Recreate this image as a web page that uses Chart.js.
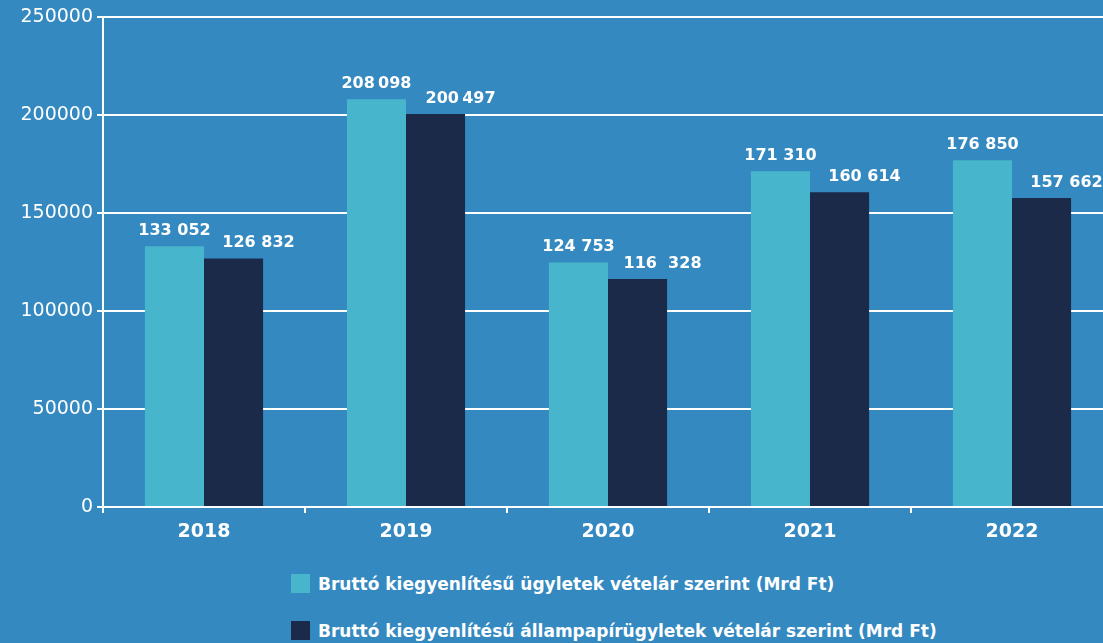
<!DOCTYPE html>
<html>
<head>
<meta charset="utf-8">
<script src="https://cdn.jsdelivr.net/npm/chart.js@4"></script>
<style>
  html, body { margin: 0; padding: 0; background: #3489c0; overflow: hidden; }
  #wrap { position: relative; width: 1103px; height: 643px; overflow: hidden; background: #3489c0; }
  #box { position: absolute; left: 0; top: 0; width: 1120px; height: 560px; }
  #legend { position: absolute; left: 291px; top: 574px; font: bold 17px "DejaVu Sans", sans-serif; color: #fff; }
  .lg-item { display: flex; align-items: center; height: 19px; margin-bottom: 28px; }
  .lg-sw { width: 19px; height: 19px; margin-right: 8px; }
</style>
</head>
<body>
<div id="wrap">
  <div id="box"><canvas id="chart"></canvas></div>
  <div id="legend"></div>
</div>
<script>
const YEARS = ["2018", "2019", "2020", "2021", "2022"];
const GROSS = [133052, 208098, 124753, 171310, 176850];
const GOV = [126832, 200497, 116328, 160614, 157662];
const GROSS_TEXT = ["133 052", "208\u2009098", "124 753", "171 310", "176 850"];
const GOV_TEXT = ["126 832", "200\u2009497", "116  328", "160 614", "157 662"];
const SERIES_NAMES = [
  "Bruttó kiegyenlítésű ügyletek vételár szerint (Mrd Ft)",
  "Bruttó kiegyenlítésű állampapírügyletek vételár szerint (Mrd Ft)",
];
const COLORS = ["#47b5cc", "#1c2a4a"];
const FONT = '"DejaVu Sans", sans-serif';

// the dark bar's label sits a bit to the right of its bar in the original
const LABEL_SHIFT = [0, 25];

const valueLabels = {
  id: "valueLabels",
  afterDatasetsDraw(chart) {
    const ctx = chart.ctx;
    const texts = [GROSS_TEXT, GOV_TEXT];
    ctx.save();
    ctx.fillStyle = "#ffffff";
    ctx.font = "bold 16px " + FONT;
    ctx.textAlign = "center";
    ctx.textBaseline = "alphabetic";
    chart.data.datasets.forEach((ds, i) => {
      chart.getDatasetMeta(i).data.forEach((bar, j) => {
        ctx.fillText(texts[i][j], bar.x + LABEL_SHIFT[i], bar.y - 11);
      });
    });
    ctx.restore();
  },
};

const chart = new Chart(document.getElementById("chart"), {
  type: "bar",
  data: {
    labels: YEARS,
    datasets: [
      { label: SERIES_NAMES[0], data: GROSS, backgroundColor: COLORS[0] },
      { label: SERIES_NAMES[1], data: GOV, backgroundColor: COLORS[1] },
    ],
  },
  options: {
    responsive: true,
    maintainAspectRatio: false,
    animation: false,
    categoryPercentage: 0.585,
    barPercentage: 1,
    layout: { padding: { top: 17, right: 7, bottom: 0, left: 0 } },
    plugins: {
      legend: { display: false },
      tooltip: { enabled: false },
    },
    scales: {
      x: {
        afterFit: (s) => { s.height = 53; },
        border: { color: "#ffffff", width: 2 },
        grid: { offset: true, drawOnChartArea: false, drawTicks: true, tickLength: 6, color: "#ffffff", lineWidth: 2 },
        ticks: { color: "#ffffff", font: { family: FONT, size: 19, weight: "bold" }, padding: 8 },
      },
      y: {
        min: 0,
        max: 250000,
        afterFit: (s) => { s.width = 103; },
        border: { color: "#ffffff", width: 2 },
        grid: { color: "#ffffff", lineWidth: 2, tickLength: 6 },
        ticks: {
          stepSize: 50000,
          color: "#ffffff",
          font: { family: FONT, size: 19 },
          padding: 4,
          callback: (v) => String(v),
        },
      },
    },
  },
  plugins: [valueLabels],
});

const legend = document.getElementById("legend");
chart.data.datasets.forEach((ds) => {
  const row = document.createElement("div");
  row.className = "lg-item";
  const sw = document.createElement("span");
  sw.className = "lg-sw";
  sw.style.background = ds.backgroundColor;
  const tx = document.createElement("span");
  tx.textContent = ds.label;
  row.appendChild(sw);
  row.appendChild(tx);
  legend.appendChild(row);
});
</script>
</body>
</html>
